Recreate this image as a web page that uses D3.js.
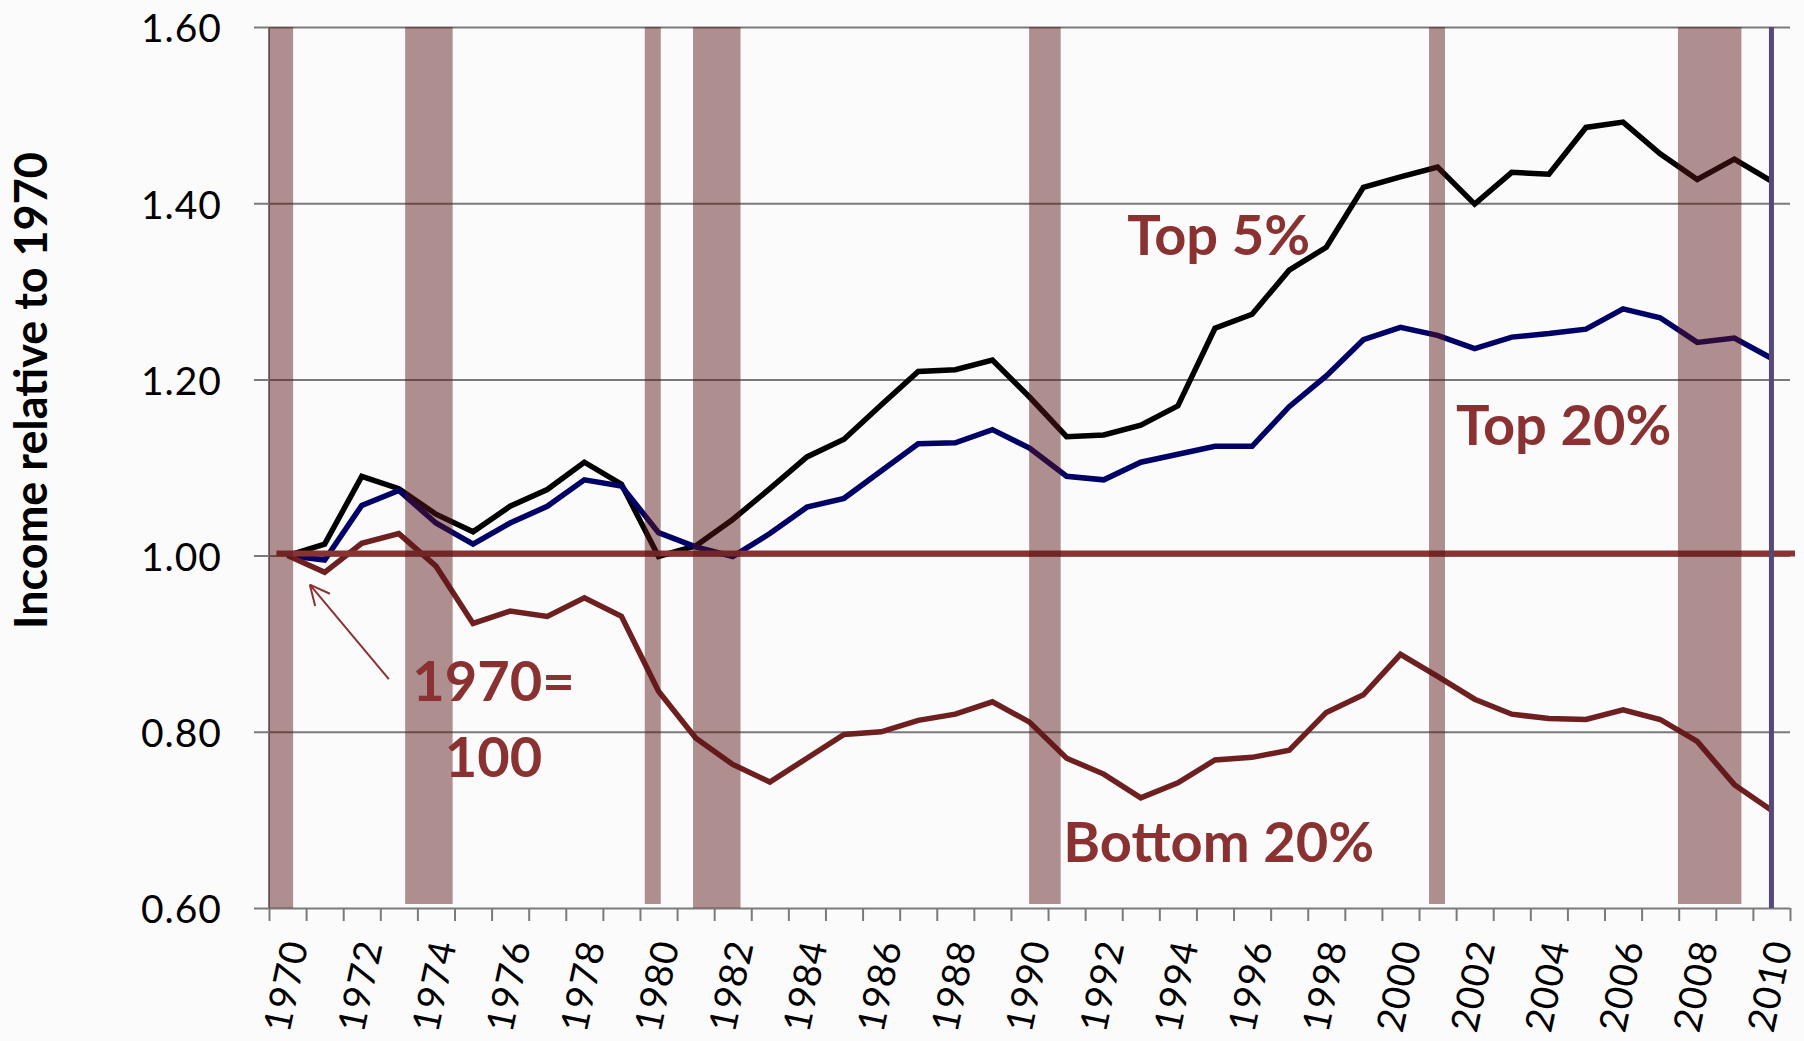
<!DOCTYPE html>
<html>
<head>
<meta charset="utf-8">
<script src="https://cdn.jsdelivr.net/npm/d3@7"></script>
<style>
  body { margin: 0; background: #fcfbfb; }
  svg { display: block; }
  text { font-family: "Lato", "Open Sans", sans-serif; }
</style>
</head>
<body>
<div id="chart"></div>
<script>
// income relative to 1970
var years = [1970, 1971, 1972, 1973, 1974, 1975, 1976, 1977, 1978, 1979,
             1980, 1981, 1982, 1983, 1984, 1985, 1986, 1987, 1988, 1989,
             1990, 1991, 1992, 1993, 1994, 1995, 1996, 1997, 1998, 1999,
             2000, 2001, 2002, 2003, 2004, 2005, 2006, 2007, 2008, 2009, 2010];

var top5 = [1.000, 1.013, 1.090, 1.076, 1.047, 1.027, 1.056, 1.075, 1.106, 1.081,
            0.999, 1.011, 1.041, 1.076, 1.112, 1.132, 1.171, 1.209, 1.211, 1.222,
            1.180, 1.135, 1.137, 1.148, 1.170, 1.258, 1.274, 1.324, 1.350, 1.418,
            1.430, 1.441, 1.399, 1.435, 1.433, 1.486, 1.492, 1.456, 1.427, 1.450, 1.425];

var top20 = [1.000, 0.995, 1.057, 1.074, 1.037, 1.013, 1.037, 1.056, 1.086, 1.079,
             1.026, 1.010, 0.999, 1.025, 1.055, 1.065, 1.096, 1.127, 1.128, 1.143,
             1.122, 1.090, 1.086, 1.106, 1.115, 1.124, 1.124, 1.169, 1.204, 1.245,
             1.259, 1.250, 1.235, 1.248, 1.252, 1.257, 1.280, 1.270, 1.242, 1.247, 1.224];

var bottom20 = [1.000, 0.981, 1.014, 1.025, 0.988, 0.923, 0.937, 0.931, 0.952, 0.931,
                0.846, 0.793, 0.763, 0.743, 0.770, 0.797, 0.800, 0.813, 0.820, 0.834,
                0.811, 0.770, 0.752, 0.725, 0.742, 0.768, 0.771, 0.779, 0.822, 0.842,
                0.888, 0.863, 0.837, 0.820, 0.815, 0.814, 0.825, 0.814, 0.789, 0.740, 0.711];

// recession shading (fractional years)
var recStart = [1970.00, 1973.67, 1980.13, 1981.43, 1990.49, 2001.27, 2007.98];
var recEnd   = [1970.65, 1974.95, 1980.56, 1982.71, 1991.34, 2001.70, 2009.69];

var yTicks = [0.60, 0.80, 1.00, 1.20, 1.40, 1.60];

var w = 1804, h = 1041;
var plotL = 269, plotR = 1790, plotT = 27, plotB = 908;

var svg = d3.select("#chart").append("svg")
    .attr("width", w)
    .attr("height", h);

svg.append("rect")
    .attr("width", w).attr("height", h)
    .attr("fill", "#fcfbfb");

// x is continuous in years, each year owns one slot, points sit mid-slot
var x = d3.scaleLinear().domain([1970, 2011]).range([plotL, plotR]);
var y = d3.scaleLinear().domain([0.6, 1.6]).range([plotB, plotT]);

// gridlines + y labels
var yAxis = d3.axisLeft(y)
    .tickValues(yTicks)
    .tickSize(-(plotR - 254))
    .tickPadding(32)
    .tickFormat(d3.format(".2f"));

var gy = svg.append("g")
    .attr("transform", "translate(254,0)")
    .call(yAxis);
gy.select(".domain").remove();
gy.selectAll("line").attr("stroke", "#7a7a7a").attr("stroke-width", 2);
gy.selectAll("text")
    .attr("font-size", 39)
    .attr("letter-spacing", 1)
    .attr("fill", "#000")
    .attr("dy", "0.38em")
    .style("font-family", "Lato, 'Open Sans', sans-serif");

// y axis line
svg.append("line")
    .attr("x1", plotL).attr("x2", plotL)
    .attr("y1", y(1.6)).attr("y2", y(0.6))
    .attr("stroke", "#7a7a7a").attr("stroke-width", 2);

// x ticks at year boundaries
var xAxis = d3.axisBottom(x)
    .tickValues(d3.range(1970, 2012))
    .tickSize(13)
    .tickFormat("");
var gx = svg.append("g")
    .attr("transform", "translate(0," + plotB + ")")
    .call(xAxis);
gx.select(".domain").remove();
gx.selectAll("line").attr("stroke", "#7a7a7a").attr("stroke-width", 2);

// x labels, every second year, steeply tilted
var evenYears = years.filter(function (d) { return d % 2 === 0; });
svg.append("g").selectAll("text")
    .data(evenYears)
    .enter().append("text")
    .attr("transform", function (d) {
      return "translate(" + (x(d + 0.5) - 2) + ",986) rotate(-78)";
    })
    .attr("text-anchor", "middle")
    .attr("dy", "0.36em")
    .attr("font-size", 38)
    .attr("letter-spacing", 1)
    .attr("fill", "#000")
    .text(function (d) { return d; });

// series lines
var series = [
  {name: "top5", values: top5, color: "#000000"},
  {name: "top20", values: top20, color: "#000066"},
  {name: "bottom20", values: bottom20, color: "#6e1f1f"}
];

var line = d3.line()
    .x(function (d, i) { return x(years[i] + 0.5); })
    .y(function (d) { return y(d); });

svg.append("g").selectAll("path")
    .data(series)
    .enter().append("path")
    .attr("d", function (d) { return line(d.values); })
    .attr("fill", "none")
    .attr("stroke", function (d) { return d.color; })
    .attr("stroke-width", 5.5)
    .attr("stroke-linejoin", "miter");

// 1.00 reference line
svg.append("line")
    .attr("x1", x(1970.2)).attr("x2", plotR + 5)
    .attr("y1", y(1.0) - 2).attr("y2", y(1.0) - 2)
    .attr("stroke", "#8b3333")
    .attr("stroke-width", 6);

// recession bars, drawn translucent over everything
svg.append("g").selectAll("rect")
    .data(recStart)
    .enter().append("rect")
    .attr("x", function (d) { return x(d); })
    .attr("width", function (d, i) { return x(recEnd[i]) - x(d); })
    .attr("y", y(1.6))
    .attr("height", function (d, i) {
      var full = (i === 0 || i === 3);
      return y(0.6) - y(1.6) - (full ? 0 : 4);
    })
    .attr("fill", "#581515")
    .attr("fill-opacity", 0.475);

// end-of-data marker
svg.append("line")
    .attr("x1", x(2010.5)).attr("x2", x(2010.5))
    .attr("y1", y(1.6)).attr("y2", y(0.6))
    .attr("stroke", "#574878")
    .attr("stroke-width", 5);

// y title
svg.append("text")
    .attr("transform", "translate(47," + ((150 + 631) / 2) + ") rotate(-90)")
    .attr("text-anchor", "middle")
    .attr("font-size", 45)
    .attr("font-weight", "bold")
    .attr("fill", "#000")
    .text("Income relative to 1970");

// series labels
var labelColor = "#8a3131";
var labels = [
  {text: "Top 5%", t: 1995.6, v: 1.3415},
  {text: "Top 20%", t: 2004.9, v: 1.1255},
  {text: "Bottom 20%", t: 1995.6, v: 0.6527},
  {text: "1970=", t: 1976.05, v: 0.835},
  {text: "100", t: 1976.05, v: 0.7485}
];
svg.append("g").selectAll("text")
    .data(labels)
    .enter().append("text")
    .attr("x", function (d) { return x(d.t); })
    .attr("y", function (d) { return y(d.v); })
    .attr("text-anchor", "middle")
    .attr("font-size", 56)
    .attr("font-weight", "bold")
    .attr("fill", labelColor)
    .text(function (d) { return d.text; });

// arrow pointing at the 1970 base point
var tail = [x(1973.23), y(0.8597)];
var tip = [x(1971.1), y(0.967)];
svg.append("line")
    .attr("x1", tail[0]).attr("y1", tail[1])
    .attr("x2", tip[0]).attr("y2", tip[1])
    .attr("stroke", labelColor).attr("stroke-width", 2);
var ang = Math.atan2(tail[1] - tip[1], tail[0] - tip[0]);
[-0.45, 0.45].forEach(function (a) {
  svg.append("line")
    .attr("x1", tip[0]).attr("y1", tip[1])
    .attr("x2", tip[0] + 22 * Math.cos(ang + a))
    .attr("y2", tip[1] + 22 * Math.sin(ang + a))
    .attr("stroke", labelColor).attr("stroke-width", 2);
});
</script>
</body>
</html>
